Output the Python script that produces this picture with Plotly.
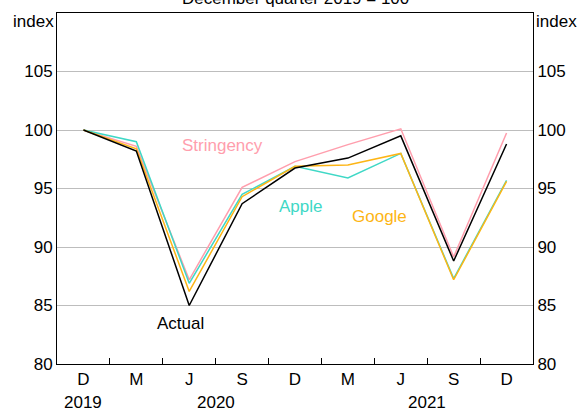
"""Consumption index vs mobility measures — December quarter 2019 = 100."""

import plotly.graph_objects as go

quarters = ["D19", "M20", "J20", "S20", "D20", "M21", "J21", "S21", "D21"]
tick_labels = ["D", "M", "J", "S", "D", "M", "J", "S", "D"]
years = ["2019", "2020", "2021"]
year_pos = [0, 2.5, 6.5]

stringency = [100.0, 98.6, 87.2, 95.1, 97.3, 98.75, 100.1, 89.15, 99.75]
apple = [100.0, 99.0, 86.9, 94.5, 96.9, 95.9, 98.0, 87.3, 95.7]
google = [100.0, 98.4, 86.2, 94.3, 96.9, 97.0, 98.0, 87.2, 95.6]
actual = [100.0, 98.2, 85.0, 93.7, 96.75, 97.6, 99.5, 88.8, 98.8]

series = [
    ("Stringency", stringency, "#FF9EAD"),
    ("Apple", apple, "#3FD8C6"),
    ("Google", google, "#FDB515"),
    ("Actual", actual, "#000000"),
]
# Why: series are labelled in-plot rather than with a legend.
label_pos = {
    "Stringency": (2.62, 98.65),
    "Apple": (4.11, 93.45),
    "Google": (5.6, 92.6),
    "Actual": (1.83, 83.45),
}

FONT = "Liberation Sans, Arial, sans-serif"
FS = 17

fig = go.Figure()
for name, values, color in series:
    fig.add_trace(go.Scatter(
        x=quarters, y=values, mode="lines", name=name,
        line={"color": color, "width": 1.5},
    ))
    lx, ly = label_pos[name]
    fig.add_annotation(
        x=lx, y=ly, text=name, showarrow=False,
        font={"color": color, "size": FS, "family": FONT},
    )

# ghost trace so the right-hand axis is drawn
fig.add_trace(go.Scatter(x=quarters, y=actual, yaxis="y2", mode="lines",
                         line={"width": 0}, hoverinfo="skip", showlegend=False))

for yr, pos in zip(years, year_pos):
    fig.add_annotation(
        x=pos, y=0, yref="paper", yanchor="middle", yshift=-38,
        text=yr, showarrow=False, font={"size": FS, "family": FONT, "color": "#000"},
    )

fig.add_annotation(x=0, xref="paper", xanchor="right", xshift=-1, y=109.3,
                   text="index", showarrow=False,
                   font={"size": FS, "family": FONT, "color": "#000"})
fig.add_annotation(x=1, xref="paper", xanchor="left", xshift=1, y=109.3,
                   text="index", showarrow=False,
                   font={"size": FS, "family": FONT, "color": "#000"})
fig.add_annotation(x=0.5, xref="paper", y=1, yref="paper", yanchor="middle", yshift=15,
                   text="December quarter 2019 = 100", showarrow=False,
                   font={"size": FS, "family": FONT, "color": "#000"})

yaxis_common = dict(
    range=[80, 110], tickvals=[80, 85, 90, 95, 100, 105],
    ticks="", showline=True, linecolor="#000", linewidth=1,
    automargin=False,
    tickfont={"size": FS, "family": FONT, "color": "#000"},
)
fig.update_layout(
    width=578, height=409,
    margin={"l": 57, "r": 45, "t": 13, "b": 45},
    paper_bgcolor="white", plot_bgcolor="white",
    showlegend=False,
    xaxis=dict(
        type="category", tickvals=quarters, ticktext=tick_labels,
        range=[-0.5, len(quarters) - 0.5],
        tickson="boundaries", ticks="inside", ticklen=6, tickcolor="#000",
        showgrid=False, showline=True, linecolor="#000", linewidth=1, mirror=True,
        automargin=False,
        tickfont={"size": FS, "family": FONT, "color": "#000"},
    ),
    yaxis=dict(**yaxis_common, side="left", showgrid=True,
               gridcolor="#BDBDBD", gridwidth=1, zeroline=False),
    yaxis2=dict(**yaxis_common, side="right", overlaying="y",
                showgrid=False, zeroline=False),
)

# Why: default body margin pushes the 578x409 figure off the window edge.
fig.write_html("out.html", config={"displayModeBar": False},
               post_script="document.body.style.margin='0';")
